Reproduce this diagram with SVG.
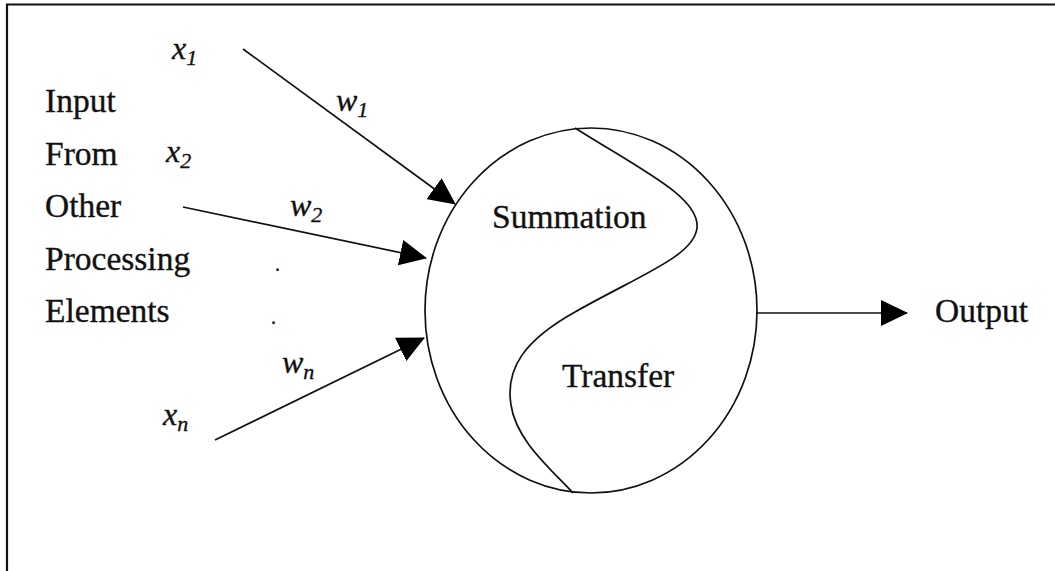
<svg xmlns="http://www.w3.org/2000/svg" width="1055" height="571" viewBox="0 0 1055 571">
<style>
.t{font-family:"Liberation Serif","Times New Roman",serif;font-size:33.5px;fill:#111;stroke:#111;stroke-width:0.35}
.i{font-family:"Liberation Serif","Times New Roman",serif;font-size:32px;font-style:italic;fill:#111;stroke:#111;stroke-width:0.35}
.s{font-size:22px}
.ln{stroke:#111;stroke-width:1.7;fill:none}
</style>
<defs>
<marker id="ah" markerUnits="userSpaceOnUse" markerWidth="27" markerHeight="26" refX="26" refY="13" orient="auto" viewBox="0 0 27 26">
<path d="M0,0 L27,13 L0,26 Z" fill="#000"/>
</marker>
</defs>
<rect width="1055" height="571" fill="#fff"/>
<g id="frame">
<path d="M7,571 L7,4.5 L1055,4.5" fill="none" stroke="#111" stroke-width="2.2"/>
</g>
<g id="inputs">
<text class="t" x="45" y="112">Input</text>
<text class="t" x="45" y="165">From</text>
<text class="t" x="45" y="217">Other</text>
<text class="t" x="45" y="270">Processing</text>
<text class="t" x="45" y="322">Elements</text>
<text class="i" x="172" y="59">x<tspan class="s" dy="6">1</tspan></text>
<text class="i" x="166" y="162">x<tspan class="s" dy="6">2</tspan></text>
<text class="i" x="163" y="425">x<tspan class="s" dy="6">n</tspan></text>
<text class="t" x="275" y="271" style="font-size:20px">.</text>
<text class="t" x="271" y="324" style="font-size:20px">.</text>
</g>
<g id="neuron">
<ellipse cx="591" cy="310.5" rx="166" ry="182.5" class="ln"/>
<path class="ln" d="M575,128 C645,172 700,198 697,228 C694,256 640,275 575,312 C525,340 505,368 511,405 C516,440 550,468 573,493"/>
<text class="t" x="492" y="228">Summation</text>
<text class="t" x="562" y="387">Transfer</text>
</g>
<g id="output">
<text class="t" x="935" y="322">Output</text>
</g>
<g id="connectors">
<line class="ln" x1="243" y1="49" x2="455" y2="204" marker-end="url(#ah)"/>
<text class="i" x="336" y="111">w<tspan class="s" dy="6">1</tspan></text>
<line class="ln" x1="183" y1="207" x2="426" y2="258" marker-end="url(#ah)"/>
<text class="i" x="290" y="216">w<tspan class="s" dy="6">2</tspan></text>
<line class="ln" x1="215" y1="440" x2="424" y2="338" marker-end="url(#ah)"/>
<text class="i" x="282" y="373">w<tspan class="s" dy="6">n</tspan></text>
<line class="ln" x1="757" y1="313" x2="907" y2="313" marker-end="url(#ah)"/>
</g>
</svg>
